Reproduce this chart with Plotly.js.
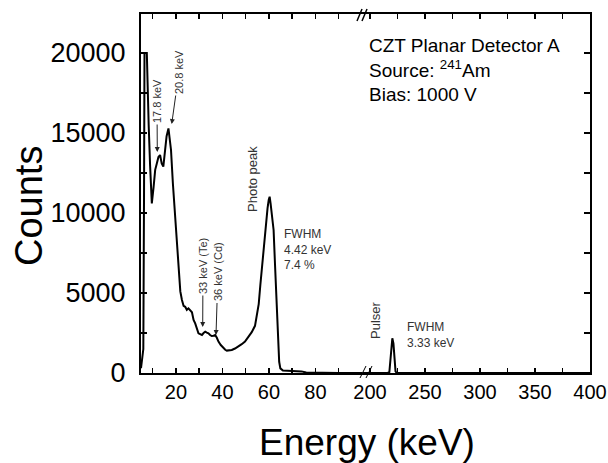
<!DOCTYPE html>
<html>
<head>
<meta charset="utf-8">
<script src="https://cdn.plot.ly/plotly-3.0.1.min.js"></script>
<style>
  html, body { margin: 0; padding: 0; background: #fff; }
  #chart { width: 608px; height: 463px; }
</style>
</head>
<body>
<div id="chart"></div>
<script>
// ---- Data: low-energy segment (keV, counts) ----
const energyLow = [5.0, 5.4, 6.0, 6.3, 6.5, 7.5, 7.8, 8.3, 8.9, 9.65, 10.4, 11.1, 11.8, 12.5, 13.2, 13.9, 14.6,
  15.3, 16.0, 16.8, 17.5, 17.9, 18.7, 19.2, 19.7, 20.4, 21.1, 21.9, 22.6, 23.3, 24.0, 24.7, 25.4, 26.4, 26.9,
  27.6, 28.3, 29.7, 30.5, 31.2, 31.9, 32.6, 33.3, 34.0, 34.7, 35.4, 36.2, 36.9, 37.6, 38.3, 39.3, 40.4, 41.2,
  41.9, 43.0, 44.0, 45.4, 46.8, 48.3, 49.7, 51.2, 52.6, 54.0, 54.9, 55.6, 56.3, 57.0, 57.7, 58.3, 58.9, 59.4,
  59.9, 60.3, 60.7, 61.2, 62.0, 62.6, 63.2, 63.6, 63.9, 64.4, 64.9, 66.0, 70.0, 74.0, 76.0, 80.0, 90.0, 100.0];
const countsLow = [300, 800, 1500, 11000, 20000, 20000, 18000, 15500, 13000, 10600, 11600, 12700, 13100, 13500, 13625, 13100, 12900,
  13900, 14800, 15290, 14300, 13940, 11860, 10800, 9140, 7800, 6640, 5100, 4560, 4200, 4140, 3950, 4040, 3830, 3800,
  3310, 3100, 2480, 2400, 2375, 2500, 2580, 2520, 2480, 2375, 2310, 2330, 2375, 2200, 1960, 1750, 1540, 1450,
  1400, 1410, 1440, 1530, 1650, 1800, 1960, 2250, 2550, 2950, 3600, 4300, 5500, 6700, 7900, 8800, 9560, 10300,
  10810, 11020, 10600, 10000, 8940, 6800, 4770, 3000, 1650, 700, 290, 150, 130, 100, 30, 10, 0, 0];

// ---- Data: high-energy segment (pulser) ----
const energyHigh = [193, 200, 210, 216, 217.6, 218.4, 219.3, 220.3, 221.3, 222.3, 223.2, 224.3, 230, 300, 400];
const countsHigh = [0, 0, 0, 0, 50, 800, 1850, 2170, 1850, 800, 100, 0, 0, 0, 0];

// ---- Ticks ----
const xTickValsLow = [20, 40, 60, 80];
const xTickTextLow = ['20', '40', '60', '80'];
const xMinorLow = [10, 30, 50, 70, 90];
const xTickValsHigh = [200, 250, 300, 350, 400];
const xTickTextHigh = ['200', '250', '300', '350', '400'];
const xMinorHigh = [225, 275, 325, 375];
const yTickVals = [0, 5000, 10000, 15000, 20000];
const yTickText = ['0', '5000', '10000', '15000', '20000'];
const yMinor = [2500, 7500, 12500, 17500];

const FONT = 'Liberation Sans, Arial, Helvetica, sans-serif';
const ANN = '#333333';

const traces = [
  { x: energyLow, y: countsLow, xaxis: 'x', yaxis: 'y', type: 'scatter', mode: 'lines',
    line: { color: '#000', width: 2 }, hoverinfo: 'skip' },
  { x: energyHigh, y: countsHigh, xaxis: 'x2', yaxis: 'y2', type: 'scatter', mode: 'lines',
    line: { color: '#000', width: 2 }, hoverinfo: 'skip' }
];

const L = 141, R = 18, T = 14, B = 90;
const W = 608, H = 463;
const plotW = W - L - R, plotH = H - T - B;
const breakPx = 362;
const splitFrac = (breakPx - L) / plotW;
// helpers: pixel -> paper coords
const px = v => (v - L) / plotW;
const py = v => (T + plotH - v) / plotH;

function xAxis(domain, range, anchor, vals, text, minorVals) {
  return {
    domain: domain, range: range, anchor: anchor,
    showline: true, linecolor: '#000', linewidth: 2, mirror: 'ticks',
    ticks: 'inside', ticklen: 5, tickwidth: 1.5, tickcolor: '#000',
    showgrid: false, zeroline: false, tickmode: 'array',
    tickvals: vals, ticktext: text,
    minor: { tickmode: 'array', tickvals: minorVals, ticks: 'inside', ticklen: 5, tickwidth: 1.5, tickcolor: '#000', showgrid: false },
    tickfont: { family: FONT, size: 20, color: '#000' }
  };
}
function yAxis(anchor, side, labels) {
  return {
    anchor: anchor, side: side, domain: [0, 1], range: [0, 22440],
    showline: true, linecolor: '#000', linewidth: 2,
    ticks: 'inside', ticklen: 6, tickwidth: 1.5, tickcolor: '#000',
    showgrid: false, zeroline: false, tickmode: 'array',
    tickvals: yTickVals, ticktext: yTickText, showticklabels: labels, ticklabelstandoff: 8,
    minor: { tickmode: 'array', tickvals: yMinor, ticks: 'inside', ticklen: 6, tickwidth: 1.5, tickcolor: '#000', showgrid: false },
    tickfont: { family: FONT, size: 27, color: '#000' }
  };
}

// rotated label with arrow: text centre at (tx, ty) px, arrow head at (hx, hy) px
function arrowLabel(text, tx, ty, hx, hy, size) {
  return {
    text: text, textangle: -90, xref: 'paper', yref: 'paper',
    x: px(hx), y: py(hy), ax: tx - hx, ay: ty - hy,
    xanchor: 'center', yanchor: 'middle',
    showarrow: true, arrowhead: 2, arrowsize: 1, arrowwidth: 1, arrowcolor: '#222', standoff: 0,
    font: { family: FONT, size: size, color: ANN }
  };
}
function plainLabel(text, tx, ty, size, angle, anchor, color) {
  return {
    text: text, textangle: angle || 0, xref: 'paper', yref: 'paper',
    x: px(tx), y: py(ty), showarrow: false,
    xanchor: anchor || 'center', yanchor: 'middle', align: 'left',
    font: { family: FONT, size: size, color: color || ANN }
  };
}

const layout = {
  width: W, height: H,
  margin: { l: L, r: R, t: T, b: B, pad: 0 },
  paper_bgcolor: '#fff', plot_bgcolor: '#fff',
  showlegend: false,
  font: { family: FONT, color: '#000' },
  xaxis: xAxis([0, splitFrac], [5, 100], 'y', xTickValsLow, xTickTextLow, xMinorLow),
  xaxis2: xAxis([splitFrac, 1], [200 - 8 / 1.1, 400], 'y2', xTickValsHigh, xTickTextHigh, xMinorHigh),
  yaxis: yAxis('x', 'left', true),
  yaxis2: yAxis('x2', 'right', false),
  shapes: [
    // axis break marks "//" top
    { type: 'line', xref: 'paper', yref: 'paper', x0: px(357), y0: py(21), x1: px(362), y1: py(9), line: { color: '#000', width: 1.5 } },
    { type: 'line', xref: 'paper', yref: 'paper', x0: px(362), y0: py(21), x1: px(367), y1: py(9), line: { color: '#000', width: 1.5 } },
    // bottom
    { type: 'line', xref: 'paper', yref: 'paper', x0: px(360), y0: py(378), x1: px(366), y1: py(366), line: { color: '#000', width: 1 } },
    { type: 'line', xref: 'paper', yref: 'paper', x0: px(366), y0: py(378), x1: px(372), y1: py(366), line: { color: '#000', width: 1 } }
  ],
  annotations: [
    // axis titles
    { text: 'Counts', xref: 'paper', yref: 'paper', x: px(29), y: py(206), textangle: -90,
      showarrow: false, xanchor: 'center', yanchor: 'middle', font: { family: FONT, size: 38, color: '#000' } },
    { text: 'Energy (keV)', xref: 'paper', yref: 'paper', x: px(367), y: py(442),
      showarrow: false, xanchor: 'center', yanchor: 'middle', font: { family: FONT, size: 37, color: '#000' } },
    // info block
    plainLabel('CZT Planar Detector A<br>Source: <sup>241</sup>Am<br>Bias: 1000 V', 367, 70, 19, 0, 'left', '#000'),
    // rotated labels with arrows
    arrowLabel('17.8 keV', 157, 101, 157.3, 152, 11),
    arrowLabel('20.8 keV', 179, 72, 171.7, 124, 11),
    arrowLabel('33 keV (Te)', 203, 266, 202.7, 327, 11),
    arrowLabel('36 keV (Cd)', 218, 272, 216, 335, 11),
    // rotated labels without arrows
    plainLabel('Photo peak', 252, 179, 13, -90),
    plainLabel('Pulser', 375, 320, 13, -90),
    plainLabel('FWHM<br>4.42 keV<br>7.4 %', 282, 249.5, 12, 0, 'left'),
    plainLabel('FWHM<br>3.33 keV', 405, 335, 12, 0, 'left')
  ]
};

Plotly.newPlot('chart', traces, layout, { staticPlot: true, displayModeBar: false });
</script>
</body>
</html>
